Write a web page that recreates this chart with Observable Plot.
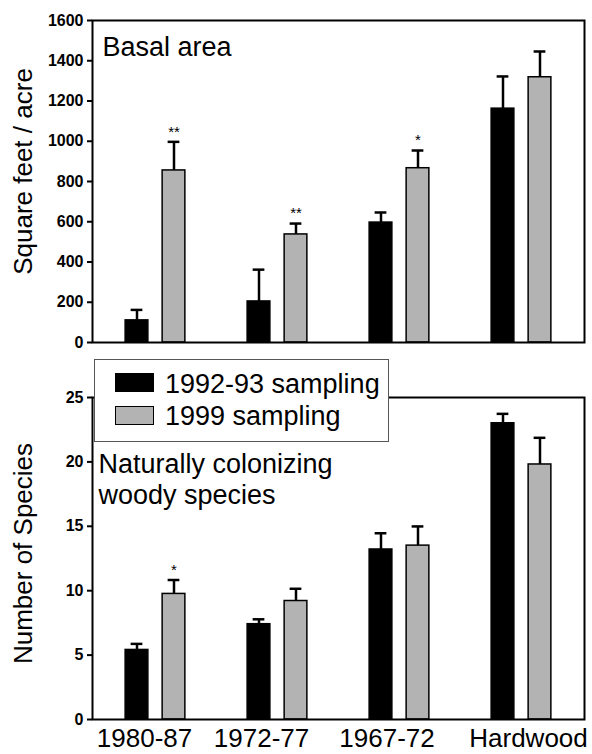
<!DOCTYPE html>
<html>
<head>
<meta charset="utf-8">
<script src="https://cdn.jsdelivr.net/npm/d3@7"></script>
<script src="https://cdn.jsdelivr.net/npm/@observablehq/plot@0.6"></script>
<style>
  html, body { margin: 0; padding: 0; background: #fff; }
  #root { position: relative; width: 592px; height: 754px; overflow: hidden; font-family: "Liberation Sans", Arial, sans-serif; color: #000; }
  #root svg { position: absolute; left: 0; font-family: "Liberation Sans", Arial, sans-serif; }
  .legend { position: absolute; left: 94px; top: 359px; width: 293px; height: 81px; background: #fff; border: 1.5px solid #555; z-index: 5; }
  .legend .sw { position: absolute; left: 20px; width: 37px; height: 17px; border: 1.5px solid #000; }
  .legend .lb { position: absolute; left: 70px; font-size: 27px; line-height: 27px; white-space: nowrap; }
</style>
</head>
<body>
<div id="root"></div>
<script>
// ---- data ----
const categories = ["1980-87", "1972-77", "1967-72", "Hardwood"];
const seriesNames = ["1992-93 sampling", "1999 sampling"];
const seriesColors = ["#000000", "#b3b3b3"];

const basal9293 = [110, 204, 596, 1162];
const basal9293SE = [52, 158, 50, 160];
const basal1999 = [855, 537, 866, 1318];
const basal1999SE = [142, 54, 88, 128];
const basalSig1999 = ["**", "**", "*", ""];

const species9293 = [5.4, 7.4, 13.2, 23.0];
const species9293SE = [0.47, 0.38, 1.26, 0.73];
const species1999 = [9.75, 9.2, 13.5, 19.8];
const species1999SE = [1.08, 0.95, 1.49, 2.07];
const speciesSig1999 = ["*", "", "", ""];

const basalTicks = [0, 200, 400, 600, 800, 1000, 1200, 1400, 1600];
const speciesTicks = [0, 5, 10, 15, 20, 25];

const panelLabels = ["Basal area", "Naturally colonizing\nwoody species"];
const yTitles = ["Square feet / acre", "Number of Species"];

// ---- layout ----
const W = 592, ML = 92, MR = 8;
const padOuter = 0.012;
const step = (W - ML - MR) / (categories.length + 2 * padOuter);
const half = step / 2;
const barOff = 18.5, barHalfW = 11.5, capHalfW = 6;
const FONT = "Liberation Sans, Arial, sans-serif";

function rows(vals, ses, sig) {
  return categories.map((c, i) => ({category: c, value: vals[i], se: ses[i], sig: sig ? sig[i] : ""}));
}

function seriesMarks(data, k) {
  const sgn = k === 0 ? -1 : 1;
  const c = half + sgn * barOff; // bar center from band left
  const bl = c - barHalfW, br = step - (c + barHalfW);
  const cl = c - capHalfW, cr = step - (c + capHalfW);
  return [
    Plot.ruleX(data, {x: "category", y1: "value", y2: d => d.value + d.se, dx: sgn * barOff, stroke: "#000", strokeWidth: 2.5}),
    Plot.tickY(data, {x: "category", y: d => d.value + d.se, insetLeft: cl, insetRight: cr, stroke: "#000", strokeWidth: 2.5}),
    Plot.rectY(data, {x: "category", y1: 0, y2: "value", fill: seriesColors[k], stroke: "#000", strokeWidth: 1.5, insetLeft: bl, insetRight: br}),
    Plot.text(data.filter(d => d.sig), {x: "category", y: d => d.value + d.se, text: "sig", dx: sgn * barOff, dy: -10, fontSize: 15, lineAnchor: "middle", fill: "#000"})
  ];
}

function panel(opts) {
  const {top, height, mt, mb, domain, ticks, d1, d2, label, labelDy, labelDx, title, titleDy, xAxis} = opts;
  const marks = [
    ...seriesMarks(d1, 0),
    ...seriesMarks(d2, 1),
    Plot.frame({stroke: "#000", strokeWidth: 2}),
    Plot.axisY({ticks, tickFormat: d => String(d), tickSize: 5, tickPadding: 4, fontSize: 16, fontWeight: "bold", strokeWidth: 2, label: null}),
    Plot.text([label], {frameAnchor: "top-left", dx: labelDx, dy: labelDy, textAnchor: "start", lineAnchor: "top", fontSize: 27, lineHeight: 1.13, fill: "#000"}),
    Plot.text([title], {frameAnchor: "left", dx: -69, dy: titleDy, rotate: -90, textAnchor: "middle", lineAnchor: "middle", fontSize: 26, fill: "#000"})
  ];
  if (xAxis) {
    const shifts = [-11, -16, -12.5, 7];
    categories.forEach((c, i) => {
      marks.push(Plot.axisX({ticks: [c], tickSize: 0, tickPadding: 9, fontSize: 26, dx: shifts[i], label: null}));
    });
  }
  const svg = Plot.plot({
    width: W, height,
    marginLeft: ML, marginRight: MR, marginTop: mt, marginBottom: mb,
    style: {fontFamily: FONT, background: "transparent", color: "#000", overflow: "visible"},
    x: {type: "band", domain: categories, paddingInner: 0, paddingOuter: padOuter, axis: null},
    y: {domain, axis: null},
    marks
  });
  svg.style.top = top + "px";
  return svg;
}

const root = document.getElementById("root");
root.appendChild(panel({
  top: 0, height: 350, mt: 20, mb: 8, domain: [0, 1600], ticks: basalTicks,
  d1: rows(basal9293, basal9293SE), d2: rows(basal1999, basal1999SE, basalSig1999),
  label: panelLabels[0], labelDx: 10, labelDy: 14, title: yTitles[0], titleDy: -10, xAxis: false
}));
root.appendChild(panel({
  top: 350, height: 404, mt: 47, mb: 35, domain: [0, 25], ticks: speciesTicks,
  d1: rows(species9293, species9293SE), d2: rows(species1999, species1999SE, speciesSig1999),
  label: panelLabels[1], labelDx: 6, labelDy: 54, title: yTitles[1], titleDy: -5, xAxis: true
}));

// legend
const leg = document.createElement("div");
leg.className = "legend";
seriesNames.forEach((name, i) => {
  const sw = document.createElement("div");
  sw.className = "sw";
  sw.style.top = (i === 0 ? 13 : 46) + "px";
  sw.style.background = seriesColors[i];
  const lb = document.createElement("div");
  lb.className = "lb";
  lb.style.top = (i === 0 ? 11 : 43) + "px";
  lb.textContent = name;
  leg.appendChild(sw);
  leg.appendChild(lb);
});
root.appendChild(leg);
</script>
</body>
</html>
